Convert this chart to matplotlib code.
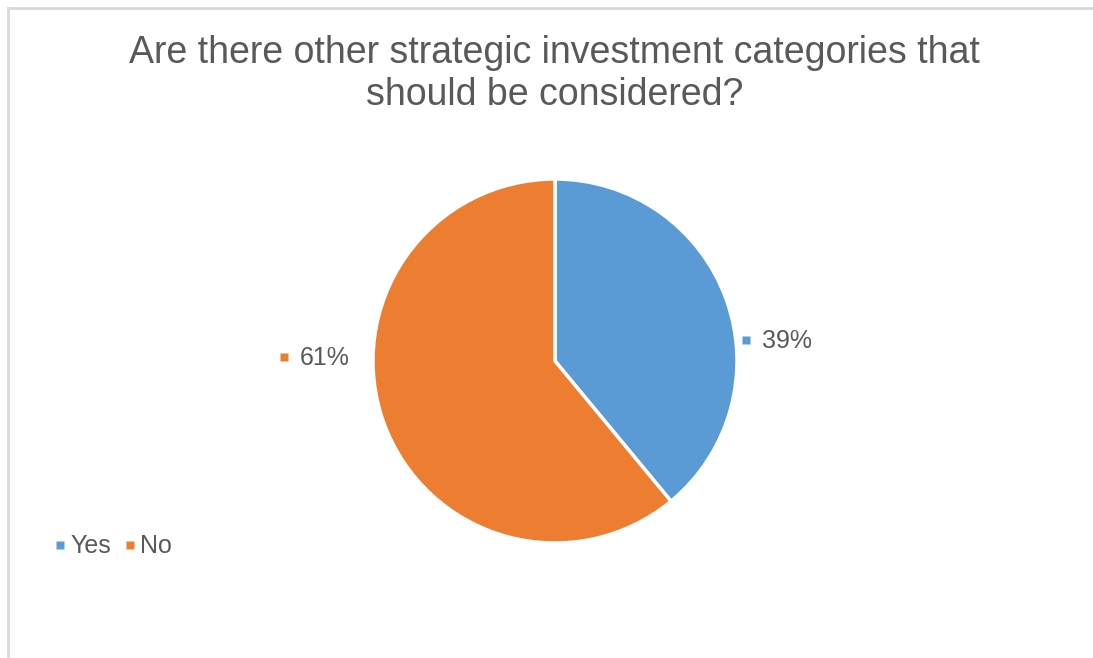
import matplotlib.pyplot as plt
from matplotlib.lines import Line2D

plt.rcParams['font.family'] = ['Liberation Sans', 'DejaVu Sans']

categories = ['Yes', 'No']
shares = [39, 61]
colors = ['#5B9BD5', '#ED7D31']
title = 'Are there other strategic investment categories that\nshould be considered?'

W, H = 1093, 658
fig = plt.figure(figsize=(W / 100, H / 100), dpi=100)
ax = fig.add_axes([0, 0, 1, 1])

# pixel-like coordinates, y measured upward
cx, cy, r = 555, H - 361, 182
ax.pie(shares, colors=colors, startangle=90, counterclock=False,
       center=(cx, cy), radius=r,
       wedgeprops=dict(edgecolor='white', linewidth=2.5))
ax.set_xlim(0, W)
ax.set_ylim(0, H)
ax.set_aspect('equal')
ax.axis('off')

# chart area border (top and left edges visible)
ax.add_line(Line2D([7.5, 7.5], [0, H - 7.5], color='#D9D9D9', lw=2))
ax.add_line(Line2D([7.5, W], [H - 7.5, H - 7.5], color='#D9D9D9', lw=2))

ax.text(W / 2 + 8, H - 74, title, ha='center', va='center', fontsize=27,
        color='#595959', linespacing=1.2)

# data labels with legend keys
text_col = '#595959'
label_pos = {'Yes': (762, H - 341), 'No': (300, H - 358)}
for cat, val, col in zip(categories, shares, colors):
    x, y = label_pos[cat]
    ax.plot(x - 16, y + 1, marker='s', ms=6, color=col, mec='none')
    ax.text(x, y, f'{val}%', ha='left', va='center', fontsize=18, color=text_col)

# legend
lx, ly = 58, H - 546
for cat, col in zip(categories, colors):
    ax.plot(lx + 2, ly + 1, marker='s', ms=6, color=col, mec='none')
    ax.text(lx + 12, ly, cat, ha='left', va='center', fontsize=18, color=text_col)
    lx += 70

fig.savefig('out.png', dpi=100, facecolor='white')
